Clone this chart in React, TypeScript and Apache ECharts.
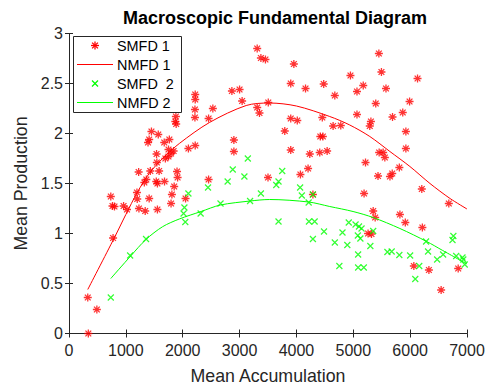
import React, { useEffect, useRef } from "react";
import * as echarts from "echarts";

const titleText = "Macroscopic Fundamental Diagram";
const xName = "Mean Accumulation";
const yName = "Mean Production";
const seriesNames = ["SMFD 1", "NMFD 1", "SMFD  2", "NMFD 2"];

const xMin = 0, xMax = 7000, xStep = 1000;
const yMin = 0, yMax = 3, yStep = 0.5;

// SMFD 1 (red asterisks)
const smfd1X = [
  330, 490, 340, 775, 735, 765, 800, 960, 1020, 1195, 1200, 1230, 1340, 1410, 1555, 1795, 1810, 1850, 2050,
  1225, 1325, 1360, 1430, 1535, 1555, 1680, 1585, 1545, 1540, 1390, 1410, 1450, 1570, 1675, 1765, 1750, 1795,
  1840, 1695, 1750, 1900, 1910, 2100, 1880, 1870, 1885, 2220, 2220, 2215, 2215, 2530, 2455, 2220, 2865, 3000,
  3045, 2900, 2900, 2455, 3310, 3375, 3455, 3310, 3350, 3505, 3500, 3955, 3900, 4160, 4480, 3900, 4015, 4455,
  3795, 4420, 4465, 3900, 4235, 4410, 4540, 4205, 4070, 5450, 4950, 5175, 5065, 5495, 5575, 6130, 4675, 5395,
  5990, 5065, 5870, 5690, 5310, 5290, 4645, 4780, 5925, 5455, 5525, 5555, 5925, 5215, 5810, 5685, 5645, 5435,
  6205, 6680, 5190, 5350, 5385, 5820, 5915, 6215, 5260, 5320, 6065, 6330, 6845, 6545, 4290,
];
const smfd1Y = [
  0.36, 0.24, 0.0, 0.955, 1.37, 1.275, 1.27, 1.275, 1.24, 1.41, 1.345, 1.25, 1.225, 1.35, 1.24, 1.3, 1.39, 1.47, 1.35,
  1.615, 1.51, 1.54, 1.625, 1.52, 1.5, 1.52, 1.625, 1.71, 1.795, 1.91, 1.94, 2.02, 1.99, 1.91, 1.94, 1.84, 1.8,
  1.825, 1.75, 1.77, 1.62, 1.56, 1.85, 2.17, 2.12, 2.095, 2.39, 2.34, 2.24, 2.16, 2.25, 2.15, 1.88, 2.425, 2.44,
  2.325, 1.935, 1.82, 1.54, 2.85, 2.755, 2.74, 2.26, 2.205, 2.31, 1.56, 2.695, 2.5, 2.45, 2.495, 2.15, 2.13, 2.16,
  2.025, 1.97, 1.97, 1.835, 1.795, 1.81, 1.825, 1.65, 1.59, 2.8, 2.58, 2.48, 2.42, 2.615, 2.45, 2.55, 2.38, 2.3,
  2.32, 2.19, 2.21, 2.165, 2.12, 2.075, 2.075, 2.08, 2.02, 1.81, 1.81, 1.76, 1.85, 1.71, 1.66, 1.6, 1.57, 1.575,
  1.445, 1.3, 1.4, 1.225, 1.16, 1.19, 1.11, 1.06, 1.0, 0.995, 0.675, 0.635, 0.65, 0.435, 1.39,
];

// NMFD 1 (red curve)
const nmfd1X = [330, 800, 1000, 1200, 1410, 1646, 1940, 2470, 3116, 3527, 4000, 4586, 4938, 5291, 5644, 5996, 6349, 6702, 7000];
const nmfd1Y = [0.44, 0.96, 1.19, 1.41, 1.6, 1.75, 1.9, 2.11, 2.28, 2.305, 2.275, 2.17, 2.085, 1.97, 1.82, 1.67, 1.5, 1.35, 1.245];

// SMFD 2 (green crosses)
const smfd2X = [
  735, 1075, 1355, 2015, 2030, 2045, 2100, 2315, 2445, 2665, 2790, 2880, 3085, 3145, 3185, 3375, 3750, 3645, 3685,
  3685, 4065, 4095, 4290, 4215, 4220, 4320, 4485, 4290, 4675, 4810, 4895, 4755, 4920, 5040, 5100, 5145, 5080, 5125,
  5085, 5085, 5185, 5300, 5350, 5600, 5675, 5810, 6000, 6090, 6160, 6280, 6315, 6475, 6580, 6760, 6745, 6810, 6920,
  6935, 6960,
];
const smfd2Y = [
  0.36, 0.78, 0.945, 1.2, 1.26, 1.115, 1.4, 1.2, 1.46, 1.3, 1.52, 1.64, 1.57, 1.75, 1.325, 1.4, 1.625, 1.485, 1.52,
  1.12, 1.46, 1.38, 1.39, 1.31, 1.12, 1.12, 1.02, 0.945, 0.91, 1.01, 0.885, 0.675, 1.11, 1.09, 1.07, 1.05, 0.98, 0.95,
  0.79, 0.66, 0.66, 0.875, 1.025, 0.815, 0.82, 0.785, 0.78, 0.545, 0.675, 0.92, 0.82, 0.74, 0.79, 0.975, 0.935, 0.775, 0.76,
  0.74, 0.69,
];

// NMFD 2 (green curve)
const nmfd2X = [735, 1085, 1353, 1646, 1940, 2323, 2663, 3187, 3527, 4215, 4586, 4996, 5349, 5820, 6291, 6573, 7000];
const nmfd2Y = [0.55, 0.775, 0.94, 1.068, 1.145, 1.22, 1.285, 1.325, 1.34, 1.315, 1.27, 1.22, 1.16, 1.05, 0.92, 0.83, 0.695];

const FONT = "'Liberation Sans', Arial, Helvetica, sans-serif";
const AXIS_COLOR = "#262626";
const RED = "#ff0000";
const GREEN = "#00ff00";
const ASTERISK = "path://M0,-1L0,1M-1,0L1,0M-0.72,-0.72L0.72,0.72M-0.72,0.72L0.72,-0.72";
const CROSS = "path://M-1,-1L1,1M-1,1L1,-1";

const pairs = (xs: number[], ys: number[]) => xs.map((x, i) => [x, ys[i]]);

// legend drawn with graphic elements (MATLAB style)
function legendGraphic() {
  const boxX = 73.5, boxY = 36.5, boxW = 108, boxH = 76;
  const rowH = 19;
  const iconX0 = 77, iconX1 = 113, iconCx = 95;
  const textX = 117;
  const els: any[] = [
    {
      type: "rect",
      shape: { x: boxX, y: boxY, width: boxW, height: boxH },
      style: { fill: "#ffffff", stroke: AXIS_COLOR, lineWidth: 1 },
      z: 100,
    },
  ];
  seriesNames.forEach((name, i) => {
    const cy = boxY + 9 + i * rowH;
    if (i === 0) {
      const r = 4, d = 2.9;
      [[0, -r, 0, r], [-r, 0, r, 0], [-d, -d, d, d], [-d, d, d, -d]].forEach((s) =>
        els.push({
          type: "line",
          shape: { x1: iconCx + s[0], y1: cy + s[1], x2: iconCx + s[2], y2: cy + s[3] },
          style: { stroke: RED, lineWidth: 1.3 },
          z: 101,
        })
      );
    } else if (i === 2) {
      const d = 3;
      [[-d, -d, d, d], [-d, d, d, -d]].forEach((s) =>
        els.push({
          type: "line",
          shape: { x1: iconCx + s[0], y1: cy + s[1], x2: iconCx + s[2], y2: cy + s[3] },
          style: { stroke: GREEN, lineWidth: 1.2 },
          z: 101,
        })
      );
    } else {
      els.push({
        type: "line",
        shape: { x1: iconX0, y1: cy, x2: iconX1, y2: cy },
        style: { stroke: i === 1 ? RED : GREEN, lineWidth: 1 },
        z: 101,
      });
    }
    els.push({
      type: "text",
      x: textX,
      y: cy,
      style: {
        text: name,
        fill: "#000000",
        font: `14.4px ${FONT}`,
        textAlign: "left",
        textVerticalAlign: "middle",
        verticalAlign: "middle",
      },
      z: 101,
    });
  });
  return els;
}

export default function App() {
  const ref = useRef<HTMLDivElement>(null);
  useEffect(() => {
    if (!ref.current) return;
    const chart = echarts.init(ref.current, null, { renderer: "svg" });
    const axisCommon = {
      type: "value" as const,
      axisLine: { show: true, lineStyle: { color: AXIS_COLOR, width: 1 } },
      axisTick: { show: true, inside: true, length: 4, lineStyle: { color: AXIS_COLOR, width: 1 } },
      splitLine: { show: false },
    };
    chart.setOption({
      animation: false,
      backgroundColor: "#ffffff",
      textStyle: { fontFamily: FONT },
      title: {
        text: titleText,
        left: 270,
        textAlign: "center",
        top: 4,
        textStyle: { fontFamily: FONT, fontSize: 18, fontWeight: "bold", color: "#000000" },
      },
      grid: {
        left: 69,
        top: 33.5,
        width: 398,
        height: 300,
        containLabel: false,
        outerBoundsMode: "none",
      },
      xAxis: [
        {
          ...axisCommon,
          position: "bottom",
          min: xMin,
          max: xMax,
          interval: xStep,
          name: xName,
          nameLocation: "middle",
          nameGap: 33,
          nameTextStyle: { fontFamily: FONT, fontSize: 17.75, color: AXIS_COLOR },
          axisLabel: {
            show: true,
            margin: 9,
            fontFamily: FONT,
            fontSize: 16,
            color: AXIS_COLOR,
            formatter: (v: number) => String(v),
          },
        },
        {
          ...axisCommon,
          position: "top",
          min: xMin,
          max: xMax,
          interval: xStep,
          axisLabel: { show: false },
        },
      ],
      yAxis: [
        {
          ...axisCommon,
          position: "left",
          min: yMin,
          max: yMax,
          interval: yStep,
          name: yName,
          nameLocation: "middle",
          nameGap: 31,
          nameTextStyle: { fontFamily: FONT, fontSize: 17.75, color: AXIS_COLOR },
          axisLabel: {
            show: true,
            margin: 6,
            fontFamily: FONT,
            fontSize: 16,
            color: AXIS_COLOR,
            formatter: (v: number) => String(v),
          },
        },
        {
          ...axisCommon,
          position: "right",
          min: yMin,
          max: yMax,
          interval: yStep,
          axisLabel: { show: false },
        },
      ],
      graphic: legendGraphic(),
      series: [
        {
          name: seriesNames[0],
          type: "scatter",
          data: pairs(smfd1X, smfd1Y),
          symbol: ASTERISK,
          symbolSize: 8,
          itemStyle: { color: RED, borderColor: RED, borderWidth: 1.3 },
          emphasis: { disabled: true },
        },
        {
          name: seriesNames[1],
          type: "line",
          data: pairs(nmfd1X, nmfd1Y),
          symbol: "none",
          smooth: 0.3,
          lineStyle: { color: RED, width: 1 },
          itemStyle: { color: RED },
        },
        {
          name: seriesNames[2],
          type: "scatter",
          data: pairs(smfd2X, smfd2Y),
          symbol: CROSS,
          symbolSize: 6,
          itemStyle: { color: GREEN, borderColor: GREEN, borderWidth: 1.2 },
          emphasis: { disabled: true },
        },
        {
          name: seriesNames[3],
          type: "line",
          data: pairs(nmfd2X, nmfd2Y),
          symbol: "none",
          smooth: 0.3,
          lineStyle: { color: GREEN, width: 1 },
          itemStyle: { color: GREEN },
        },
      ],
    });
    return () => chart.dispose();
  }, []);
  return (
    <div
      ref={ref}
      style={{ position: "fixed", left: 0, top: 0, width: 490, height: 387, background: "#ffffff" }}
    />
  );
}
